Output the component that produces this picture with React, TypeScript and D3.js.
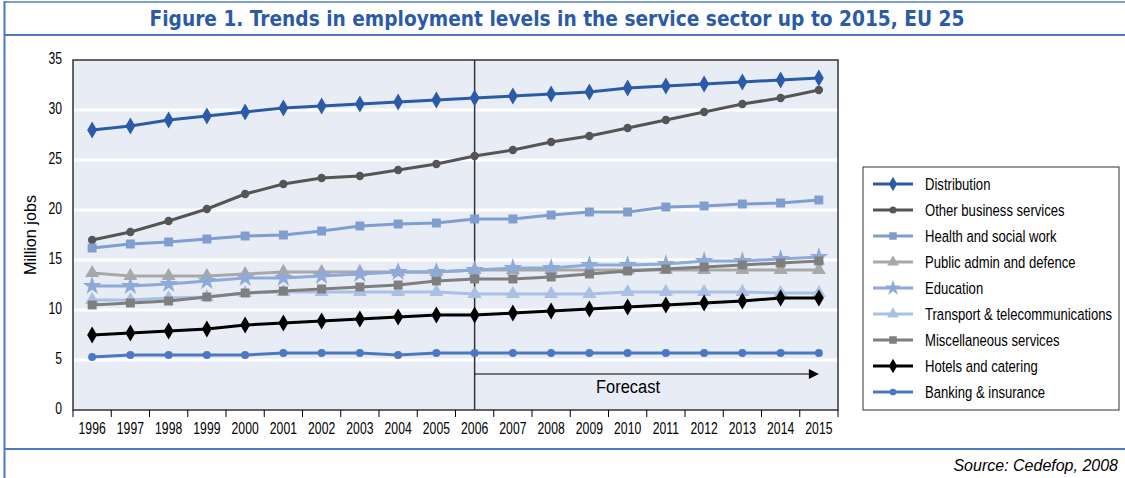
import React from "react";
import * as d3 from "d3";

const years = ["1996","1997","1998","1999","2000","2001","2002","2003","2004","2005","2006","2007","2008","2009","2010","2011","2012","2013","2014","2015"];
const yTicks = [0, 5, 10, 15, 20, 25, 30, 35];

const distribution = [28.0,28.4,29.0,29.4,29.8,30.2,30.4,30.6,30.8,31.0,31.2,31.4,31.6,31.8,32.2,32.4,32.6,32.8,33.0,33.2];
const otherBusiness = [17.0,17.8,18.9,20.1,21.6,22.6,23.2,23.4,24.0,24.6,25.4,26.0,26.8,27.4,28.2,29.0,29.8,30.6,31.2,32.0];
const health = [16.2,16.6,16.8,17.1,17.4,17.5,17.9,18.4,18.6,18.7,19.1,19.1,19.5,19.8,19.8,20.3,20.4,20.6,20.7,21.0];
const publicAdmin = [13.7,13.4,13.4,13.4,13.6,13.8,13.8,13.8,13.8,13.8,14.0,14.0,14.0,14.0,14.0,14.0,14.0,14.0,14.0,14.0];
const education = [12.4,12.4,12.6,12.9,13.2,13.2,13.4,13.6,13.8,13.8,14.0,14.2,14.2,14.5,14.5,14.6,14.9,14.9,15.1,15.3];
const transport = [11.0,11.0,11.2,11.3,11.7,11.8,11.8,11.8,11.8,11.8,11.6,11.6,11.6,11.6,11.8,11.8,11.8,11.8,11.7,11.7];
const miscellaneous = [10.5,10.7,10.9,11.3,11.7,11.9,12.1,12.3,12.5,12.9,13.1,13.1,13.3,13.6,13.9,14.1,14.3,14.5,14.7,14.9];
const hotels = [7.5,7.7,7.9,8.1,8.5,8.7,8.9,9.1,9.3,9.5,9.5,9.7,9.9,10.1,10.3,10.5,10.7,10.9,11.2,11.2];
const banking = [5.3,5.5,5.5,5.5,5.5,5.7,5.7,5.7,5.5,5.7,5.7,5.7,5.7,5.7,5.7,5.7,5.7,5.7,5.7,5.7];

const seriesNames = ["Distribution","Other business services","Health and social work","Public admin and defence","Education","Transport & telecommunications","Miscellaneous services","Hotels and catering","Banking & insurance"];
const seriesValues = [distribution, otherBusiness, health, publicAdmin, education, transport, miscellaneous, hotels, banking];
const seriesColors = ["#2b5ba8","#555555","#7f9ecf","#a8a8a8","#8eaad8","#a9c0e3","#7f7f7f","#000000","#4b78c0"];
const seriesSymbols = [d3.symbolDiamond, d3.symbolCircle, d3.symbolSquare, d3.symbolTriangle, d3.symbolStar, d3.symbolTriangle, d3.symbolSquare, d3.symbolDiamond, d3.symbolCircle];
const symbolSizes = [85, 55, 80, 85, 110, 85, 80, 85, 50];

const FONT = "'Liberation Sans', Arial, sans-serif";
const TITLE_FONT = "'DejaVu Sans Condensed', 'DejaVu Sans', sans-serif";

function CT(props: { x: number; y: number; sx: number; size: number; anchor?: string; children: React.ReactNode; style?: string }) {
  return (
    <text
      transform={`translate(${props.x},${props.y}) scale(${props.sx},1)`}
      textAnchor={props.anchor || "start"}
      fontSize={props.size}
      fontStyle={props.style || "normal"}
      fill="#000"
    >
      {props.children}
    </text>
  );
}

export default function App() {
  const W = 1125, H = 478;
  const left = 73, right = 838, top = 60, bottom = 410;
  const x = d3.scaleBand<string>().domain(years).range([left, right]);
  const y = d3.scaleLinear().domain([0, 35]).range([bottom, top]);
  const cx = (yr: string) => (x(yr) as number) + x.bandwidth() / 2;
  const line = d3.line<number>().x((_, i) => cx(years[i])).y((v) => y(v));
  const xForecast = cx("2006");
  const xEnd = cx("2015");
  const legX = 863, legY = 167, legW = 256, legH = 243;

  return (
    <svg width={W} height={H} style={{ display: "block", position: "absolute", left: 0, top: 0 }} fontFamily={FONT}>
      <rect x={0} y={0} width={W} height={H} fill="#ffffff" />
      {/* frame */}
      <line x1={4} x2={W} y1={2} y2={2} stroke="#7f9ecf" strokeWidth={2} />
      <line x1={4} x2={W} y1={35} y2={35} stroke="#4b78c0" strokeWidth={2} />
      <line x1={4} x2={W} y1={449} y2={449} stroke="#4b78c0" strokeWidth={2} />
      <line x1={4.5} x2={4.5} y1={1} y2={H} stroke="#4b78c0" strokeWidth={2} />
      <text x={557} y={26} textAnchor="middle" fill="#2b5ba8" fontSize={21} fontWeight="bold" fontFamily={TITLE_FONT} textLength={815} lengthAdjust="spacingAndGlyphs">
        Figure 1. Trends in employment levels in the service sector up to 2015, EU 25
      </text>
      {/* plot */}
      <rect x={left} y={top} width={right - left} height={bottom - top} fill="#e8ecf5" />
      {yTicks.filter((t) => t > 0 && t < 35).map((t) => (
        <line key={t} x1={left} x2={right} y1={y(t)} y2={y(t)} stroke="#ffffff" strokeWidth={3} />
      ))}
      <rect x={left} y={top} width={right - left} height={bottom - top} fill="none" stroke="#333333" strokeWidth={1.5} />
      {yTicks.map((t) => (
        <CT key={t} x={62} y={y(t) + 4} sx={0.76} size={16} anchor="end">{t}</CT>
      ))}
      {years.map((yr) => (
        <line key={"t" + yr} x1={x(yr) as number} x2={x(yr) as number} y1={bottom} y2={bottom + 7} stroke="#000" strokeWidth={1} />
      ))}
      <line x1={right} x2={right} y1={bottom} y2={bottom + 7} stroke="#000" strokeWidth={1} />
      {years.map((yr) => (
        <CT key={"l" + yr} x={cx(yr)} y={434} sx={0.76} size={16} anchor="middle">{yr}</CT>
      ))}
      <text transform={`translate(36,${(top + bottom) / 2}) rotate(-90)`} textAnchor="middle" fontSize={17} fill="#000" textLength={80} lengthAdjust="spacingAndGlyphs">Million jobs</text>
      {/* forecast */}
      <line x1={xForecast} x2={xForecast} y1={top} y2={bottom} stroke="#333333" strokeWidth={1.5} />
      <line x1={xForecast} x2={xEnd - 8} y1={374} y2={374} stroke="#000" strokeWidth={1.2} />
      <path d={`M${xEnd - 10},369 L${xEnd},374 L${xEnd - 10},379 Z`} fill="#000" />
      <text x={628} y={393} textAnchor="middle" fontSize={18} fill="#000" textLength={64} lengthAdjust="spacingAndGlyphs">Forecast</text>
      {/* series */}
      {seriesValues.map((vals, si) => (
        <g key={si}>
          <path d={line(vals) as string} fill="none" stroke={seriesColors[si]} strokeWidth={3} />
          {vals.map((v, i) => (
            <path key={i} transform={`translate(${cx(years[i])},${y(v)})`} d={d3.symbol().type(seriesSymbols[si]).size(symbolSizes[si])() as string} fill={seriesColors[si]} />
          ))}
        </g>
      ))}
      {/* legend */}
      <rect x={legX} y={legY} width={legW} height={legH} fill="#fff" stroke="#333" strokeWidth={1} />
      {seriesNames.map((n, i) => {
        const ly = 184 + i * 26;
        return (
          <g key={n}>
            <line x1={873} x2={913} y1={ly} y2={ly} stroke={seriesColors[i]} strokeWidth={3} />
            <path transform={`translate(893,${ly})`} d={d3.symbol().type(seriesSymbols[i]).size(symbolSizes[i] * 0.7)() as string} fill={seriesColors[i]} />
            <CT x={925} y={ly + 6} sx={0.77} size={17}>{n}</CT>
          </g>
        );
      })}
      <text x={1118} y={471} textAnchor="end" fontSize={16} fontStyle="italic" fill="#000">Source: Cedefop, 2008</text>
    </svg>
  );
}
